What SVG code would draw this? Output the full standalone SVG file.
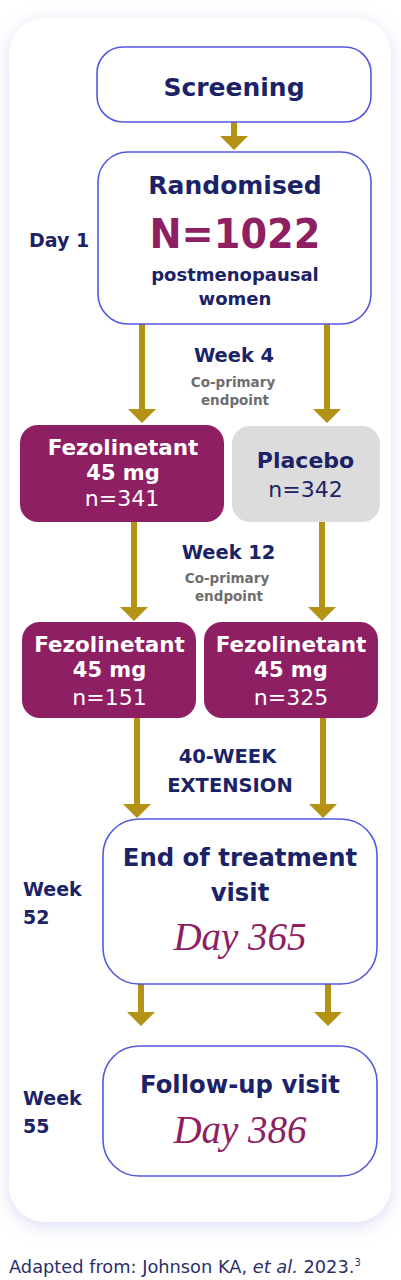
<svg xmlns="http://www.w3.org/2000/svg" width="401" height="1280" viewBox="0 0 401 1280">
<defs>
<filter id="sh" x="-20%" y="-10%" width="140%" height="120%">
<feDropShadow dx="0" dy="4" stdDeviation="8" flood-color="#c9cdf3" flood-opacity="0.7"/>
</filter>
<style>
.ob{fill:#fff;stroke:#5358e0;stroke-width:1.6}
.mag{fill:#8e1f63}
.gray{fill:#dcdcdc}
.t{font-family:"DejaVu Sans","Liberation Sans",sans-serif;font-weight:700;text-anchor:middle}
.nv{fill:#1b2266}
.w{fill:#fff}
.reg{font-weight:400}
.ep{font-family:"DejaVu Sans","Liberation Sans",sans-serif;font-weight:700;font-size:13.5px;fill:#6e6e6e;text-anchor:middle}
.side{font-family:"DejaVu Sans","Liberation Sans",sans-serif;font-weight:700;font-size:19px;fill:#1b2266}
.day{font-family:"Liberation Serif",serif;font-style:italic;font-size:39px;fill:#8e1f63;text-anchor:middle}
.ar{fill:#b39216}
</style>
</defs>
<rect width="401" height="1280" fill="#fff"/>
<rect x="9" y="18" width="382" height="1204" rx="36" fill="#fff" filter="url(#sh)"/>

<g id="connectors" class="ar">
<path d="M231 122h6v14h11l-14 14l-14-14h11z"/>
<path d="M139 324h6v85h11l-14 14l-14-14h11z"/>
<path d="M324 324h6v85h11l-14 14l-14-14h11z"/>
<path d="M131 522h6v85h11l-14 14l-14-14h11z"/>
<path d="M319 522h6v85h11l-14 14l-14-14h11z"/>
<path d="M134 718h6v86h11l-14 14l-14-14h11z"/>
<path d="M320 718h6v86h11l-14 14l-14-14h11z"/>
<path d="M138 984h6v28h11l-14 14l-14-14h11z"/>
<path d="M325 984h6v28h11l-14 14l-14-14h11z"/>
</g>

<g id="screening">
<rect class="ob" x="97" y="47" width="274" height="75" rx="26"/>
<text class="t nv" x="234" y="96" font-size="25">Screening</text>
</g>

<g id="randomised">
<rect class="ob" x="98" y="152" width="273" height="172" rx="30"/>
<text class="t nv" x="235" y="194" font-size="25">Randomised</text>
<text class="t" x="235" y="248" font-size="40" fill="#8e1f63" textLength="171" lengthAdjust="spacingAndGlyphs">N=1022</text>
<text class="t nv" x="235" y="281" font-size="18">postmenopausal</text>
<text class="t nv" x="235" y="305" font-size="18">women</text>
</g>
<text id="day1" class="side" x="29" y="247">Day 1</text>

<g id="week4">
<text class="t nv" x="234" y="362" font-size="19.4">Week 4</text>
<text class="ep" x="233" y="387">Co-primary</text>
<text class="ep" x="235" y="405">endpoint</text>
</g>

<g id="fezo341">
<rect class="mag" x="20" y="425" width="204" height="97" rx="18"/>
<text class="t w" x="123" y="455" font-size="21.5">Fezolinetant</text>
<text class="t w" x="123" y="480" font-size="21">45 mg</text>
<text class="t w reg" x="122" y="506" font-size="22">n=341</text>
</g>

<g id="placebo">
<rect class="gray" x="232" y="426" width="148" height="96" rx="18"/>
<text class="t nv" x="305.5" y="468" font-size="22">Placebo</text>
<text class="t nv reg" x="305.5" y="497" font-size="22">n=342</text>
</g>

<g id="week12">
<text class="t nv" x="228.5" y="559" font-size="19.4">Week 12</text>
<text class="ep" x="227" y="583">Co-primary</text>
<text class="ep" x="229" y="601">endpoint</text>
</g>

<g id="fezo151">
<rect class="mag" x="22" y="622" width="174" height="96" rx="18"/>
<text class="t w" x="109.5" y="652" font-size="21.5">Fezolinetant</text>
<text class="t w" x="109.5" y="677" font-size="21">45 mg</text>
<text class="t w reg" x="109.5" y="705" font-size="22">n=151</text>
</g>

<g id="fezo325">
<rect class="mag" x="204" y="622" width="174" height="96" rx="18"/>
<text class="t w" x="291" y="652" font-size="21.5">Fezolinetant</text>
<text class="t w" x="291" y="677" font-size="21">45 mg</text>
<text class="t w reg" x="291" y="705" font-size="22">n=325</text>
</g>

<g id="extension">
<text class="t nv" x="227.5" y="763" font-size="19.5">40-WEEK</text>
<text class="t nv" x="230" y="792" font-size="19.5">EXTENSION</text>
</g>

<g id="endtreat">
<rect class="ob" x="103" y="819" width="274" height="165" rx="36"/>
<text class="t nv" x="240" y="866" font-size="24.3">End of treatment</text>
<text class="t nv" x="240" y="901" font-size="24.3">visit</text>
<text class="day" x="240" y="950">Day 365</text>
</g>
<text id="week52" class="side" x="23" y="896"><tspan x="23">Week</tspan><tspan x="23" y="924">52</tspan></text>

<g id="followup">
<rect class="ob" x="103" y="1046" width="274" height="130" rx="36"/>
<text class="t nv" x="240" y="1093" font-size="24.3">Follow-up visit</text>
<text class="day" x="240" y="1143" font-size="40">Day 386</text>
</g>
<text id="week55" class="side" x="23" y="1105"><tspan x="23">Week</tspan><tspan x="23" y="1133">55</tspan></text>

<text id="caption" x="9" y="1273" font-family="'DejaVu Sans','Liberation Sans',sans-serif" font-size="17.8" fill="#2a2f6a">Adapted from: Johnson KA, <tspan font-style="italic">et al.</tspan> 2023.<tspan font-size="10" dy="-7">3</tspan></text>
</svg>
